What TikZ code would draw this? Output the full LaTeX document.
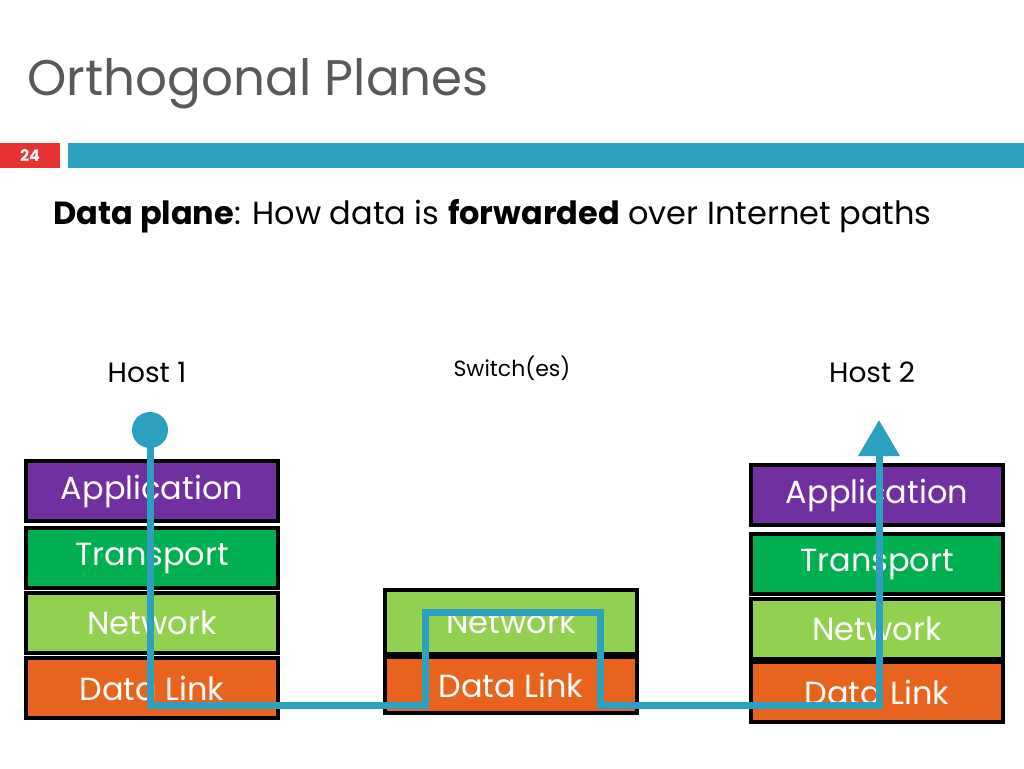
\documentclass[tikz,border=0pt]{standalone}
\usepackage{fontspec}
\setmainfont{Poppins}
\usetikzlibrary{arrows.meta}
\definecolor{titlegray}{RGB}{89,89,89}
\definecolor{barblue}{RGB}{44,160,190}
\definecolor{barred}{RGB}{230,50,50}
\definecolor{appcol}{RGB}{112,48,160}
\definecolor{trcol}{RGB}{0,176,80}
\definecolor{netcol}{RGB}{146,208,80}
\definecolor{dlcol}{RGB}{232,100,30}
\begin{document}
\begin{tikzpicture}[x=1pt,y=-1pt]
% Styles
\tikzset{
  couche/.style={draw=black,line width=4pt,minimum width=252pt,minimum height=60pt,inner sep=0pt,
    text=white,font=\fontsize{32}{32}\selectfont},
  hote/.style={font=\fontsize{28}{28}\selectfont},
  chemin/.style={draw=barblue,line width=7pt},
}
\useasboundingbox (0,0) rectangle (1024,768);
% Entete
\node[anchor=west,text=titlegray,font=\fontsize{50}{50}\selectfont] (titre) at (24,84) {Orthogonal Planes};
\fill[barred] (0,143) rectangle (60,168);
\node[text=white,font=\bfseries\fontsize{16}{16}\selectfont] (num) at (30,156) {24};
\fill[barblue] (68,143) rectangle (1024,168);
\node[anchor=west,font=\fontsize{32}{32}\selectfont] (sous) at (50,216) {\textbf{Data plane}: How data is \textbf{forwarded} over Internet paths};
% Etiquettes
\node[hote] (H1) at (147,372) {Host 1};
\node[font=\fontsize{22}{22}\selectfont] (S) at (512,368) {Switch(es)};
\node[hote] (H2) at (872,372) {Host 2};
% Pile gauche
\node[couche,fill=appcol] (Ga) at (152,491) {Application};
\node[couche,fill=trcol] (Gt) at (152,558) {Transport};
\node[couche,fill=netcol] (Gn) at (152,623) {Network};
\node[couche,fill=dlcol] (Gd) at (152,688) {Data Link};
% Pile milieu
\node[couche,fill=netcol,minimum height=64pt] (Mn) at (511,622) {Network};
\node[couche,fill=dlcol,minimum height=56pt] (Md) at (511,685) {Data Link};
% Pile droite
\node[couche,fill=appcol] (Da) at (877,495) {Application};
\node[couche,fill=trcol] (Dt) at (877,564) {Transport};
\node[couche,fill=netcol] (Dn) at (877,629) {Network};
\node[couche,fill=dlcol] (Dd) at (877,692) {Data Link};
% Chemin
\coordinate (depart) at (150,430);
\coordinate (arrivee) at (879,420);
\fill[barblue] (depart) circle (18);
\draw[chemin,-{Triangle[length=36pt,width=40pt]}] (depart) -- (150,705) -- (425,705) -- (425,612)
  -- (600,612) -- (600,705) -- (879,705) -- (arrivee);
\end{tikzpicture}
\end{document}
